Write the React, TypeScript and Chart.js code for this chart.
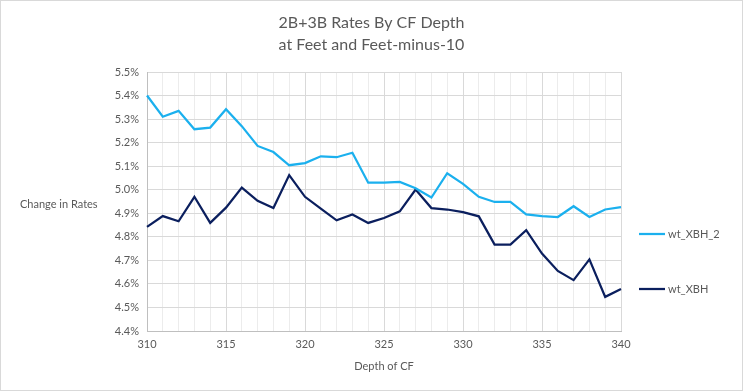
import React, { useEffect, useRef } from 'react';
import { Chart, registerables } from 'chart.js';

Chart.register(...registerables);

const depths = [310, 311, 312, 313, 314, 315, 316, 317, 318, 319, 320, 321, 322, 323, 324, 325, 326, 327, 328, 329, 330, 331, 332, 333, 334, 335, 336, 337, 338, 339, 340];
const wtXBH2 = [5.40, 5.31, 5.335, 5.257, 5.264, 5.342, 5.27, 5.186, 5.16, 5.104, 5.113, 5.142, 5.138, 5.157, 5.03, 5.03, 5.033, 5.006, 4.967, 5.07, 5.025, 4.97, 4.948, 4.948, 4.895, 4.888, 4.884, 4.93, 4.884, 4.916, 4.926];
const wtXBH = [4.842, 4.888, 4.866, 4.97, 4.859, 4.924, 5.009, 4.953, 4.922, 5.062, 4.97, 4.92, 4.87, 4.895, 4.859, 4.88, 4.908, 5.001, 4.922, 4.916, 4.905, 4.887, 4.767, 4.767, 4.828, 4.729, 4.655, 4.616, 4.704, 4.545, 4.578];
const seriesNames = ['wt_XBH_2', 'wt_XBH'];
const titleLines = ['2B+3B Rates By CF Depth', 'at Feet and Feet-minus-10'];
const yTitle = 'Change in Rates';
const xTitle = 'Depth of CF';
const yMin = 4.4;
const yMax = 5.5;
const yStep = 0.1;

const FONT = 'Lato, "Open Sans", sans-serif';
const TEXT = '#595959';

const decorPlugin = {
  id: 'decor',
  beforeDraw(chart: any) {
    const { ctx, width, height } = chart;
    ctx.save();
    ctx.fillStyle = '#ffffff';
    ctx.fillRect(0, 0, width, height);
    ctx.strokeStyle = '#d9d9d9';
    ctx.lineWidth = 1;
    ctx.strokeRect(0.5, 0.5, width - 1, height - 1);
    ctx.restore();
  },
  afterDraw(chart: any) {
    const { ctx, width } = chart;
    ctx.save();
    ctx.fillStyle = TEXT;
    ctx.textAlign = 'center';
    ctx.textBaseline = 'middle';
    ctx.font = `16px ${FONT}`;
    ctx.fillText(titleLines[0], width / 2, 23);
    ctx.fillText(titleLines[1], width / 2, 45);
    ctx.font = `11px ${FONT}`;
    ctx.textAlign = 'left';
    ctx.fillText(yTitle, 20, 204);
    const legendY = [234, 289];
    chart.data.datasets.forEach((ds: any, i: number) => {
      ctx.strokeStyle = ds.borderColor;
      ctx.lineWidth = 2.25;
      ctx.beginPath();
      ctx.moveTo(639, legendY[i]);
      ctx.lineTo(665, legendY[i]);
      ctx.stroke();
      ctx.fillStyle = TEXT;
      ctx.fillText(ds.label, 668, legendY[i]);
    });
    ctx.restore();
  },
};

export default function App() {
  const ref = useRef<HTMLCanvasElement>(null);
  useEffect(() => {
    document.body.style.margin = '0';
    const chart = new Chart(ref.current!, {
      type: 'line',
      data: {
        labels: depths.map(String),
        datasets: [
          { label: seriesNames[0], data: wtXBH2, borderColor: '#1BB0EE', borderWidth: 2.25, pointRadius: 0, tension: 0, fill: false },
          { label: seriesNames[1], data: wtXBH, borderColor: '#0B1F5E', borderWidth: 2.25, pointRadius: 0, tension: 0, fill: false },
        ],
      },
      options: {
        animation: false,
        responsive: false,
        events: [],
        layout: { padding: { left: 0, right: 122, top: 72, bottom: 14 } },
        plugins: { legend: { display: false }, title: { display: false }, tooltip: { enabled: false } },
        scales: {
          x: {
            type: 'category',
            offset: false,
            grid: {
              drawTicks: false,
              color: (c: any) => (c.index % 5 === 0 ? '#d9d9d9' : '#ececec'),
              lineWidth: 1,
            },
            border: { color: '#bfbfbf', width: 1 },
            ticks: {
              autoSkip: false,
              maxRotation: 0,
              padding: 7,
              color: TEXT,
              font: { family: FONT, size: 11 },
              callback: (v: any, i: number) => (depths[i] % 5 === 0 ? String(depths[i]) : ''),
            },
            title: { display: true, text: xTitle, color: TEXT, font: { family: FONT, size: 11 }, padding: { top: 4, bottom: 4 } },
            afterFit: (s: any) => { s.height = 46; },
          },
          y: {
            min: yMin,
            max: yMax,
            grid: { drawTicks: false, color: '#d9d9d9' },
            border: { color: '#bfbfbf', width: 1 },
            ticks: {
              stepSize: yStep,
              padding: 8,
              color: TEXT,
              font: { family: FONT, size: 11 },
              callback: (v: any) => `${Number(v).toFixed(1)}%`,
            },
            afterFit: (s: any) => { s.width = 147; },
          },
        },
      },
      plugins: [decorPlugin],
    });
    return () => chart.destroy();
  }, []);
  return <canvas ref={ref} width={743} height={391} style={{ display: 'block' }} />;
}
